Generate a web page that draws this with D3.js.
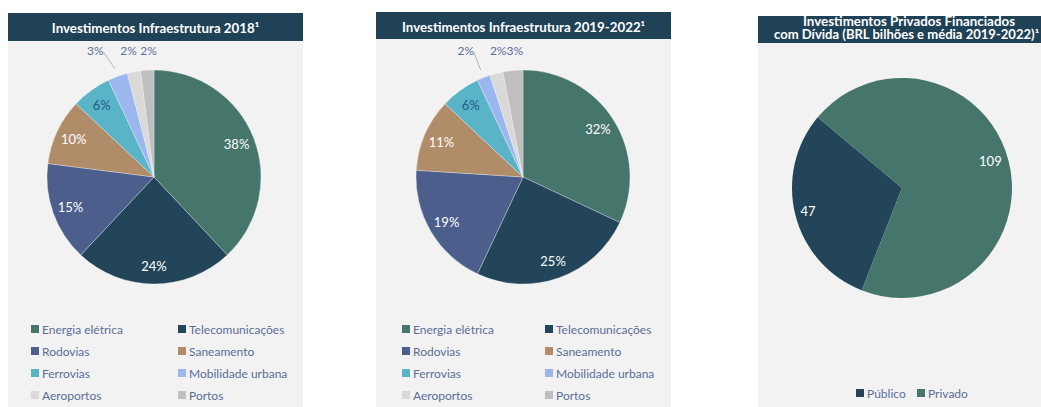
<!DOCTYPE html>
<html><head><meta charset="utf-8">
<script src="https://cdn.jsdelivr.net/npm/d3@7"></script>
<style>html,body{margin:0;padding:0;background:#fff;overflow:hidden}svg{display:block}</style>
</head><body>
<svg id="chart" width="1041" height="407"></svg>
<script>
// ---- data ----
const categories = ["Energia elétrica","Telecomunicações","Rodovias","Saneamento","Ferrovias","Mobilidade urbana","Aeroportos","Portos"];
const values2018 = [38,24,15,10,6,3,2,2];
const values2019_2022 = [32,25,19,11,6,2,2,3];
const debtCategories = ["Público","Privado"];
const debtValues = [47,109];
const titles = ["Investimentos Infraestrutura 2018¹","Investimentos Infraestrutura 2019-2022¹"];
const debtTitle = ["Investimentos Privados Financiados","com Dívida (BRL bilhões e média 2019-2022)¹"];

// ---- styles ----
const catColors = ["#46756c","#22455a","#4b5e8c","#b08c69","#5ab4c8","#9cb7ee","#d9d9d9","#bfbfbf"];
const debtColors = ["#22455a","#46756c"];
const titleBg = "#1f4256", panelBg = "#f2f2f2", legendText = "#5b6e99";
const FONT = "Lato, 'Open Sans', sans-serif";

const svg = d3.select("#chart");

function pieLabelColor(i){ return i===4 ? "#245a86" : (i>=5 ? legendText : "#ffffff"); }

function drawCategoryPanel(p, values, title){
  const g = svg.append("g");
  g.append("rect").attr("x",p.x).attr("y",p.titleY).attr("width",p.w).attr("height",p.titleH).attr("fill",titleBg);
  g.append("rect").attr("x",p.x).attr("y",p.titleY+p.titleH).attr("width",p.w).attr("height",407-p.titleY-p.titleH).attr("fill",panelBg);
  g.append("text").attr("x",p.x+p.w/2).attr("y",p.titleY+p.titleH/2+1).attr("text-anchor","middle")
    .attr("dominant-baseline","central").attr("fill","#fff").attr("font-family",FONT).attr("font-weight","bold")
    .attr("font-size",13.3).text(title);

  const data = values.map((v,i)=>({cat:categories[i],v,i}));
  const pie = d3.pie().value(d=>d.v).sort(null);
  const arcs = pie(data);
  const arc = d3.arc().innerRadius(0).outerRadius(p.r);
  const labelArc = d3.arc().innerRadius(p.r*0.83).outerRadius(p.r*0.83);
  const pg = g.append("g").attr("transform",`translate(${p.cx},${p.cy})`);
  pg.selectAll("path").data(arcs).join("path").attr("d",arc).attr("fill",d=>catColors[d.data.i])
    .attr("stroke","#ffffff").attr("stroke-width",0.3);

  const total = d3.sum(values);
  arcs.forEach((a)=>{
    const pct = Math.round(a.data.v/total*100)+"%";
    const i = a.data.i;
    if(i<=4){
      const [x,y] = labelArc.centroid(a);
      pg.append("text").attr("x",x).attr("y",y).attr("text-anchor","middle").attr("dominant-baseline","central")
        .attr("fill",pieLabelColor(i)).attr("font-family",FONT).attr("font-size",13).text(pct);
    } else {
      const mid = (a.startAngle+a.endAngle)/2;
      const rr = p.r+13;
      const x = rr*Math.sin(mid) + p.outDx[i-5];
      const y = -p.r-20;
      pg.append("text").attr("x",x).attr("y",y).attr("text-anchor","middle").attr("dominant-baseline","central")
        .attr("fill",legendText).attr("font-family",FONT).attr("font-size",12).text(pct);
      if(p.leader[i-5]){
        const ex = (p.r+8)*Math.sin(mid), ey = -(p.r+8)*Math.cos(mid);
        pg.append("line").attr("x1",x+8).attr("y1",y+2).attr("x2",ex).attr("y2",ey)
          .attr("stroke","#a6a6a6").attr("stroke-width",0.8);
      }
    }
  });

  // legend
  const lg = g.append("g");
  categories.forEach((c,i)=>{
    const col = i%2, row = Math.floor(i/2);
    const lx = p.legX[col], ly = p.legY + row*p.legDy;
    lg.append("rect").attr("x",lx).attr("y",ly-4).attr("width",8).attr("height",8).attr("fill",catColors[i]);
    lg.append("text").attr("x",lx+11).attr("y",ly).attr("dominant-baseline","central").attr("fill",legendText)
      .attr("font-family",FONT).attr("font-size",12).text(c);
  });
}

drawCategoryPanel({x:8,w:295,titleY:13,titleH:28,cx:154,cy:177,r:107,outDx:[-18,-3,2],leader:[true,false,false],
  legX:[31,178],legY:329,legDy:22}, values2018, titles[0]);
drawCategoryPanel({x:376,w:295,titleY:12,titleH:27,cx:523,cy:177,r:107,outDx:[-13,5,3],leader:[true,false,false],
  legX:[402,545],legY:329,legDy:22}, values2019_2022, titles[1]);

// ---- debt panel ----
(function(){
  const p = {x:758,w:290,titleY:16,titleH:27,cx:902,cy:188,r:110};
  const g = svg.append("g");
  g.append("rect").attr("x",p.x).attr("y",p.titleY).attr("width",p.w).attr("height",p.titleH).attr("fill",titleBg);
  g.append("rect").attr("x",p.x).attr("y",p.titleY+p.titleH).attr("width",p.w).attr("height",407-p.titleY-p.titleH).attr("fill",panelBg);
  const tl = [{x:803,len:212},{x:774,len:265}];
  debtTitle.forEach((t,k)=>{
    g.append("text").attr("x",tl[k].x).attr("y",p.titleY+5+k*13.5)
      .attr("dominant-baseline","central").attr("fill","#fff").attr("font-family",FONT).attr("font-weight","bold")
      .attr("font-size",12.3).attr("textLength",tl[k].len).attr("lengthAdjust","spacingAndGlyphs").text(t);
  });
  const data = debtValues.map((v,i)=>({cat:debtCategories[i],v,i}));
  const startA = 201.5*Math.PI/180;
  const pie = d3.pie().value(d=>d.v).sort(null).startAngle(startA).endAngle(startA+2*Math.PI);
  const arcs = pie(data);
  const arc = d3.arc().innerRadius(0).outerRadius(p.r);
  const pg = g.append("g").attr("transform",`translate(${p.cx},${p.cy})`);
  pg.selectAll("path").data(arcs).join("path").attr("d",arc).attr("fill",d=>debtColors[d.data.i]);
  // Excel-like label placement: angle and radius per label
  const lblPos = [{ang:256,rad:0.88},{ang:73,rad:0.84}];
  arcs.forEach(a=>{
    const lp = lblPos[a.data.i];
    const ang = lp.ang*Math.PI/180;
    const x = p.r*lp.rad*Math.sin(ang), y = -p.r*lp.rad*Math.cos(ang);
    pg.append("text").attr("x",x).attr("y",y).attr("text-anchor","middle").attr("dominant-baseline","central")
      .attr("fill","#fff").attr("font-family",FONT).attr("font-size",13).text(a.data.v);
  });
  const leg = g.append("g");
  const lx = [856,917];
  debtCategories.forEach((c,i)=>{
    leg.append("rect").attr("x",lx[i]).attr("y",389).attr("width",8).attr("height",8).attr("fill",debtColors[i]);
    leg.append("text").attr("x",lx[i]+11).attr("y",393).attr("dominant-baseline","central").attr("fill",legendText)
      .attr("font-family",FONT).attr("font-size",12).text(c);
  });
})();
</script>
</body></html>
